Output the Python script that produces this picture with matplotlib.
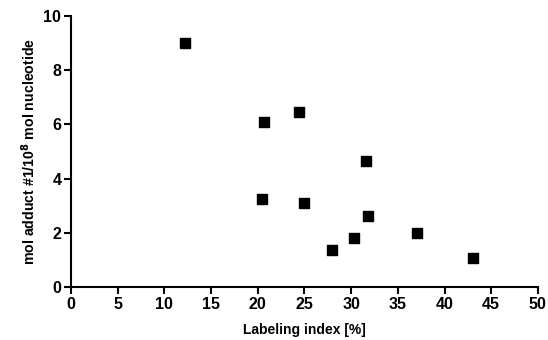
import matplotlib
matplotlib.use('Agg')
import matplotlib.pyplot as plt

# Data
labeling_index = [12.2, 20.7, 24.4, 31.6, 20.5, 24.9, 31.8, 30.3, 27.9, 37.0, 43.0]
adducts = [9.02, 6.10, 6.45, 4.65, 3.24, 3.10, 2.63, 1.82, 1.35, 1.98, 1.06]
x_ticks = [0, 5, 10, 15, 20, 25, 30, 35, 40, 45, 50]
y_ticks = [0, 2, 4, 6, 8, 10]

plt.rcParams['font.family'] = ['Liberation Sans', 'DejaVu Sans']
plt.rcParams['font.weight'] = 'bold'

fig = plt.figure(figsize=(5.48, 3.40), dpi=100)
ax = fig.add_axes([0.1296, 0.156, 0.852, 0.797])

ax.scatter(labeling_index, adducts, marker='s', s=58, color='black', zorder=3)

ax.set_xlim(0, 50)
ax.set_ylim(0, 10)
ax.set_xticks(x_ticks)
ax.set_yticks(y_ticks)
ax.tick_params(direction='out', length=5, width=1.5, labelsize=11.5, pad=2)

for side in ['top', 'right']:
    ax.spines[side].set_visible(False)
for side in ['left', 'bottom']:
    ax.spines[side].set_linewidth(1.5)

ax.set_xlabel('Labeling index [%]', fontsize=10, fontweight='bold', labelpad=8)
ax.set_ylabel('mol adduct #1/10$^{\\mathbf{8}}$ mol nucleotide', fontsize=10.2,
              fontweight='bold', labelpad=4)

fig.savefig('out.png', dpi=100)
